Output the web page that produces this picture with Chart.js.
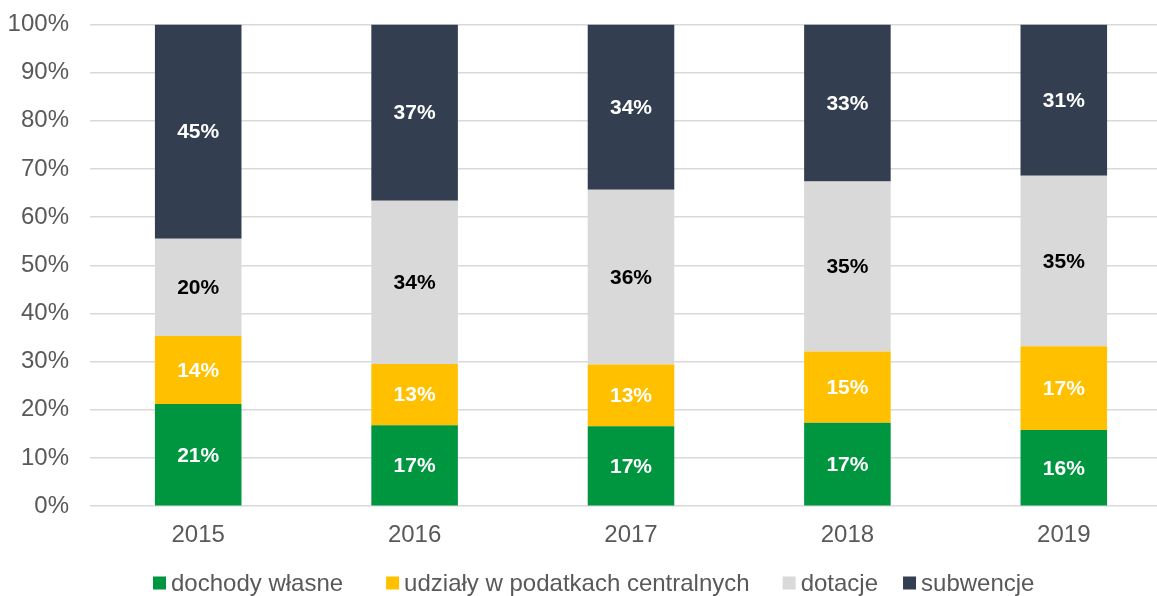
<!DOCTYPE html>
<html>
<head>
<meta charset="utf-8">
<script src="https://cdn.jsdelivr.net/npm/chart.js@4"></script>
<style>
html,body{margin:0;padding:0;background:#fff;overflow:hidden;}
#wrap{width:1157px;height:596px;overflow:hidden;}
canvas{display:block;margin-top:-11px;}
</style>
</head>
<body>
<div id="wrap"><canvas id="c" width="1180" height="607"></canvas></div>
<script>
const years = ['2015','2016','2017','2018','2019'];
const dochodyWlasne = [21.2, 16.8, 16.6, 17.3, 15.8];
const udzialy = [14.1, 12.7, 12.8, 14.8, 17.4];
const dotacje = [20.2, 33.9, 36.3, 35.3, 35.4];
const subwencje = [44.5, 36.6, 34.3, 32.6, 31.4];
const yTicks = [0,10,20,30,40,50,60,70,80,90,100];

const seriesNames = ['dochody własne','udziały w podatkach centralnych','dotacje','subwencje'];
const seriesColors = ['#009640','#FFC000','#D9D9D9','#333F50'];
const labelColors = ['#ffffff','#ffffff','#000000','#ffffff'];
const FONT = '"Liberation Sans", Arial, sans-serif';

const dataLabelPlugin = {
  id:'dataLabels',
  afterDatasetsDraw(chart){
    const ctx = chart.ctx;
    ctx.save();
    ctx.font = 'bold 21px ' + FONT;
    ctx.textAlign = 'center';
    ctx.textBaseline = 'middle';
    chart.data.datasets.forEach((ds, di) => {
      const meta = chart.getDatasetMeta(di);
      meta.data.forEach((bar, i) => {
        const v = ds.data[i];
        ctx.fillStyle = labelColors[di];
        ctx.fillText(Math.round(v) + '%', bar.x, (bar.y + bar.base) / 2 + 1);
      });
    });
    ctx.restore();
  }
};

const legendPlugin = {
  id:'customLegend',
  afterDraw(chart){
    const ctx = chart.ctx;
    ctx.save();
    ctx.font = '24px ' + FONT;
    ctx.textBaseline = 'middle';
    const box = 13, gapText = 5, gaps = [43, 33, 25];
    let x = 153;
    const yc = 595;
    chart.data.datasets.forEach((d, i) => {
      const w = ctx.measureText(d.label).width;
      ctx.fillStyle = d.backgroundColor;
      ctx.fillRect(x, yc - box/2 - 1, box, box);
      ctx.fillStyle = '#595959';
      ctx.textAlign = 'left';
      ctx.fillText(d.label, x + box + gapText, yc);
      x += box + gapText + w + (gaps[i] || 0);
    });
    ctx.restore();
  }
};

const values = [dochodyWlasne, udzialy, dotacje, subwencje];
new Chart(document.getElementById('c'), {
  type:'bar',
  data:{
    labels: years,
    datasets: values.map((arr, i) => ({
      label: seriesNames[i],
      data: arr,
      backgroundColor: seriesColors[i],
      borderWidth: 0,
      barPercentage: 0.4,
      categoryPercentage: 1.0
    }))
  },
  options:{
    responsive:false,
    animation:false,
    layout:{padding:{left:9, right:8, top:3, bottom:31}},
    plugins:{legend:{display:false}, tooltip:{enabled:false}},
    scales:{
      x:{
        stacked:true,
        grid:{display:false, drawTicks:false},
        border:{display:false},
        ticks:{font:{family:FONT, size:24}, color:'#595959', padding:15}
      },
      y:{
        stacked:true,
        min:0, max:100,
        afterBuildTicks(axis){ axis.ticks = yTicks.map(v => ({value:v})); },
        afterFit(axis){ axis.width = 81; },
        grid:{color:'#D9D9D9', lineWidth:1.5, drawTicks:false},
        border:{display:false},
        ticks:{font:{family:FONT, size:24}, color:'#595959', padding:21, callback:v => v + '%'}
      }
    }
  },
  plugins:[dataLabelPlugin, legendPlugin]
});
</script>
</body>
</html>
